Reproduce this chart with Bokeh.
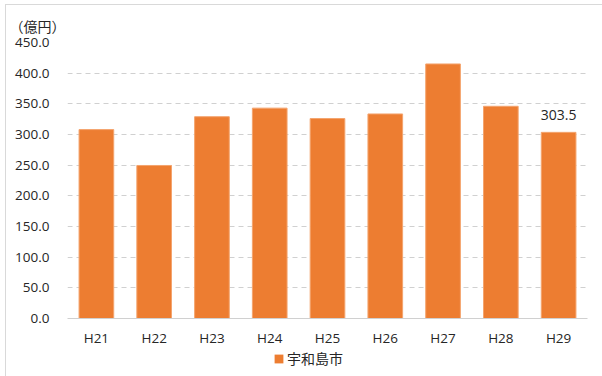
from bokeh.plotting import figure
from bokeh.layouts import column
from bokeh.models import ColumnDataSource, Legend, LegendItem, NumeralTickFormatter, Title
from bokeh.core.properties import value
from bokeh.embed import file_html
from bokeh.resources import INLINE

categories = ["H21", "H22", "H23", "H24", "H25", "H26", "H27", "H28", "H29"]
values = [308.0, 249.5, 329.0, 343.0, 326.0, 333.5, 415.0, 346.0, 303.5]
series_name = "宇和島市"
unit_label = "（億円）"
y_ticks = [0, 50, 100, 150, 200, 250, 300, 350, 400, 450]

CJK = "Noto Sans CJK JP"
LAT = "Open Sans"
TXT = "#262626"
ORANGE = "#ED7D31"

labels = ["" for _ in values]
labels[-1] = f"{values[-1]:.1f}"
src = ColumnDataSource(dict(x=categories, top=values, lab=labels))

p = figure(x_range=categories, y_range=(0, 450), width=597, height=344,
           output_backend="svg", toolbar_location=None,
           min_border_left=61, min_border_right=16, min_border_top=37, min_border_bottom=31)
p.outline_line_color = None
p.background_fill_color = "white"
p.border_fill_color = "white"
p.add_layout(Title(text=unit_label, align="left", offset=-58, standoff=14,
                   text_font=CJK, text_font_size="14px", text_font_style="normal",
                   text_color=TXT), "above")

r = p.vbar(x="x", top="top", width=0.6, source=src, fill_color=ORANGE,
           line_color="#F4A46E", line_width=1)

p.text(x="x", y="top", text="lab", source=src, text_align="center",
       text_baseline="bottom", y_offset=-12, text_font=value(LAT),
       text_font_size="14px", text_color=TXT)

p.xgrid.grid_line_color = None
p.ygrid.grid_line_color = "#d0d0d0"
p.ygrid.grid_line_dash = "5 4"
p.ygrid.ticker = y_ticks

p.yaxis.ticker = y_ticks
p.yaxis.formatter = NumeralTickFormatter(format="0.0")
p.yaxis.axis_line_color = None
p.yaxis.major_tick_line_color = None
p.yaxis.minor_tick_line_color = None
p.yaxis.major_label_standoff = 12
p.xaxis.axis_line_color = "#d0d0d0"
p.xaxis.major_tick_line_color = None
p.xaxis.major_label_standoff = 4
for ax in (p.xaxis[0], p.yaxis[0]):
    ax.major_label_text_font = LAT
    ax.major_label_text_font_size = "13.5px"
    ax.major_label_text_color = TXT

# legend strip below the chart (its frame is aligned with the chart frame)
lf = figure(width=597, height=28, output_backend="svg", toolbar_location=None,
            x_range=(0, 1), y_range=(0, 1), min_border=0)
lf.axis.visible = False
lf.grid.visible = False
lf.outline_line_color = None
lr = lf.vbar(x=[-10], top=[-10], width=0.1, fill_color=ORANGE, line_color=None)
legend = Legend(items=[LegendItem(label=series_name, renderers=[lr])],
                location=(206, 9), orientation="horizontal",
                glyph_width=11, glyph_height=11, label_height=18, label_standoff=3,
                padding=0, margin=0,
                label_text_font=CJK, label_text_font_size="14px", label_text_color=TXT,
                border_line_color=None, background_fill_alpha=0)
lf.add_layout(legend)

layout = column(p, lf, spacing=0, margin=(4, 0, 0, 5),
                styles={"border-left": "1px solid #d9d9d9", "border-top": "1px solid #d9d9d9"})

open("out.html", "w").write(file_html(layout, INLINE))
